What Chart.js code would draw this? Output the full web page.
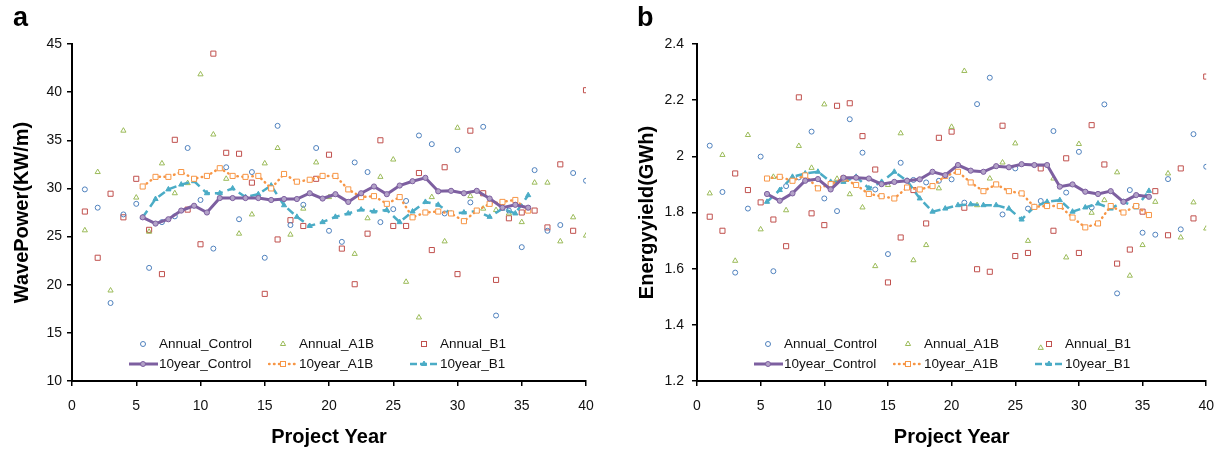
<!DOCTYPE html>
<html>
<head>
<meta charset="utf-8">
<script src="https://cdn.jsdelivr.net/npm/chart.js@4.4.0/dist/chart.umd.min.js"></script>
<style>
body{margin:0;background:#fff;width:1226px;height:451px;overflow:hidden;font-family:Arial,"Liberation Sans",sans-serif}
.panel{position:absolute;top:0;width:613px;height:451px}
.letra{position:absolute;top:2px;font-weight:bold;font-size:27px;color:#000}
.item{position:absolute;white-space:nowrap;font-size:13.5px;line-height:16px;color:#111}
.muestra{position:absolute}
</style>
</head>
<body>
<div class="panel" style="left:0"><canvas id="graficoPotencia" width="613" height="451"></canvas></div>
<div class="panel" style="left:613px"><canvas id="graficoEnergia" width="613" height="451"></canvas></div>
<div class="letra" style="left:13px">a</div>
<div class="letra" style="left:637px">b</div>
<div id="leyendas"></div>
<script>
// años del proyecto y centros de la media de 10 años
let anos = [1,2,3,4,5,6,7,8,9,10,11,12,13,14,15,16,17,18,19,20,21,22,23,24,25,26,27,28,29,30,31,32,33,34,35,36,37,38,39,40]
let anosMedia = [5.5,6.5,7.5,8.5,9.5,10.5,11.5,12.5,13.5,14.5,15.5,16.5,17.5,18.5,19.5,20.5,21.5,22.5,23.5,24.5,25.5,26.5,27.5,28.5,29.5,30.5,31.5,32.5,33.5,34.5,35.5]

// panel a: WavePower (KW/m)
let potControl = [29.9,28.0,18.1,27.3,28.4,21.75,26.5,27.1,34.2,28.8,23.75,32.2,26.8,31.7,22.8,36.5,26.2,28.3,34.2,25.6,24.45,32.7,31.7,26.5,27.85,28.7,35.5,34.6,27.4,34.0,28.55,36.4,16.8,27.7,23.9,31.9,25.6,26.2,31.6,30.8]
let potA1B = [25.65,31.7,19.4,36.0,29.05,25.5,32.6,29.5,30.55,41.85,35.6,31.0,25.3,27.3,32.6,34.2,25.2,27.9,32.7,29.1,49.7,23.2,26.9,31.2,33.0,20.3,16.6,29.1,24.5,36.3,29.2,27.9,27.75,27.4,26.5,30.6,30.6,24.5,27.0,25.1]
let potB1 = [27.6,22.8,29.45,27.0,31.0,25.7,21.1,35.05,27.8,24.2,44.0,33.7,33.6,30.6,19.05,24.7,26.7,26.1,31.0,33.5,23.75,20.05,25.3,35.0,26.1,26.1,31.6,23.6,32.2,21.1,36.0,29.5,20.5,26.9,27.5,27.7,25.95,32.5,25.6,40.2]
let potMediaControl = [27.0,26.35,26.8,27.7,28.2,27.5,29.0,29.0,29.0,29.0,28.8,28.9,28.9,29.5,28.95,29.4,28.6,29.5,30.2,29.4,30.3,30.75,31.1,29.7,29.75,29.5,29.75,28.95,28.0,28.3,28.0]
let potMediaA1B = [30.2,31.2,31.2,31.7,31.0,31.3,32.1,31.3,31.2,31.3,30.0,31.5,30.7,30.9,31.3,31.3,29.9,29.1,29.2,28.4,29.1,27.0,27.5,27.6,27.4,26.6,27.7,28.4,28.6,28.8,27.7]
let potMediaB1 = [27.0,28.9,29.9,30.4,30.75,29.5,29.5,30.0,29.1,29.4,30.3,28.25,27.05,26.1,26.5,27.05,27.4,27.8,27.6,27.75,26.5,27.6,28.6,28.3,27.4,27.5,27.65,27.05,27.9,27.4,29.3]

// panel b: Energy yield (GWh)
let enControl = [2.038,1.873,1.586,1.814,1.999,1.591,1.894,1.925,2.088,1.850,1.805,2.132,2.013,1.882,1.652,1.977,1.916,1.907,1.913,1.918,1.835,2.186,2.280,1.793,1.957,1.814,1.841,2.090,1.871,2.016,1.818,2.185,1.512,1.880,1.728,1.721,1.919,1.740,2.079,1.963]
let enA1B = [1.868,2.005,1.628,2.076,1.740,1.927,1.808,2.037,1.959,2.185,1.920,1.865,1.818,1.609,1.898,2.082,1.630,1.684,1.886,2.105,2.304,1.826,1.921,1.978,2.046,1.699,1.318,1.921,1.640,2.044,1.799,1.844,1.943,1.575,1.684,1.838,1.939,1.711,1.836,1.743]
let enB1 = [1.785,1.735,1.939,1.880,1.836,1.775,1.680,2.210,1.797,1.755,2.180,2.189,2.072,1.953,1.551,1.711,1.880,1.761,2.066,2.088,1.817,1.598,1.589,2.109,1.645,1.656,1.957,1.735,1.993,1.656,2.111,1.971,1.618,1.668,1.803,1.876,1.719,1.957,1.779,2.284]
let enMediaControl = [1.866,1.842,1.868,1.913,1.919,1.882,1.924,1.924,1.921,1.901,1.909,1.913,1.918,1.945,1.933,1.969,1.949,1.945,1.965,1.961,1.972,1.969,1.969,1.892,1.900,1.874,1.866,1.876,1.838,1.862,1.856]
let enMediaA1B = [1.921,1.927,1.913,1.932,1.886,1.901,1.921,1.898,1.866,1.858,1.850,1.889,1.882,1.894,1.930,1.945,1.907,1.876,1.900,1.876,1.868,1.820,1.823,1.823,1.782,1.747,1.761,1.823,1.800,1.823,1.791]
let enMediaB1 = [1.838,1.880,1.927,1.939,1.945,1.909,1.909,1.927,1.886,1.909,1.945,1.913,1.850,1.803,1.814,1.826,1.829,1.826,1.826,1.814,1.775,1.820,1.838,1.844,1.803,1.818,1.832,1.814,1.838,1.818,1.877]

let fuente = 'Arial, "Liberation Sans", sans-serif'
let azul = '#4f81bd', verde = '#9bbb59', rojo = '#c0504d'
let morado = '#7d5fa0', naranja = '#f79646', turquesa = '#4bacc6'

function puntos(xs, ys){
  return xs.map((x,i)=>({x:x, y:ys[i]}))
}

function datasets(control, a1b, b1, mControl, mA1B, mB1){
  return [
    {label:'10year_Control', data:puntos(anosMedia,mControl), borderColor:morado, borderWidth:3,
     pointStyle:'circle', pointRadius:2.6, pointBackgroundColor:'#b3a2c8', pointBorderColor:morado, pointBorderWidth:1, order:1},
    {label:'10year_A1B', data:puntos(anosMedia,mA1B), borderColor:naranja, borderWidth:2.5, borderDash:[0.5,4.5], borderCapStyle:'round',
     pointStyle:'rect', pointRadius:3.6, pointBackgroundColor:'#fff', pointBorderColor:naranja, pointBorderWidth:1, order:1},
    {label:'10year_B1', data:puntos(anosMedia,mB1), borderColor:turquesa, borderWidth:2.5, borderDash:[8,5],
     pointStyle:'triangle', pointRadius:3, pointBackgroundColor:turquesa, pointBorderColor:turquesa, pointBorderWidth:1, order:1},
    {label:'Annual_Control', data:puntos(anos,control), showLine:false, pointStyle:'circle', pointRadius:2.5,
     pointBackgroundColor:'rgba(0,0,0,0)', pointBorderColor:azul, pointBorderWidth:1, order:2},
    {label:'Annual_A1B', data:puntos(anos,a1b), showLine:false, pointStyle:'triangle', pointRadius:3,
     pointBackgroundColor:'rgba(0,0,0,0)', pointBorderColor:verde, pointBorderWidth:1, order:2},
    {label:'Annual_B1', data:puntos(anos,b1), showLine:false, pointStyle:'rect', pointRadius:3.6,
     pointBackgroundColor:'rgba(0,0,0,0)', pointBorderColor:rojo, pointBorderWidth:1, order:2}
  ]
}

function opciones(yMin, yMax, yPaso, tituloY, anchoY, padDerecha, padTituloY, padTicksY){
  return {
    responsive:false,
    animation:false,
    layout:{padding:{left:0, right:padDerecha, top:44, bottom:0}},
    plugins:{legend:{display:false}, tooltip:{enabled:false}},
    scales:{
      x:{
        type:'linear', min:0, max:40,
        ticks:{stepSize:5, padding:12, color:'#111', font:{size:14, family:fuente}},
        grid:{drawOnChartArea:false, color:'#000', tickLength:5, lineWidth:1.5},
        border:{color:'#000', width:2},
        title:{display:true, text:'Project Year', color:'#000', font:{size:20, weight:'bold', family:fuente}, padding:{top:0, bottom:2}},
        afterFit: s=>{ s.height = 70 }
      },
      y:{
        min:yMin, max:yMax,
        ticks:{stepSize:yPaso, padding:padTicksY, color:'#111', font:{size:14, family:fuente},
          callback: v=> String(Math.round(v*10)/10)},
        grid:{drawOnChartArea:false, color:'#000', tickLength:5, lineWidth:1.5},
        border:{color:'#000', width:2},
        title:{display:true, text:tituloY, color:'#000', font:{size:20, weight:'bold', family:fuente}, padding:{top:padTituloY, bottom:0}},
        afterFit: s=>{ s.width = anchoY }
      }
    }
  }
}

let graficoPotencia = new Chart(document.getElementById('graficoPotencia'), {
  type:'line',
  data:{datasets:datasets(potControl,potA1B,potB1,potMediaControl,potMediaA1B,potMediaB1)},
  options:opciones(10, 45, 5, 'WavePower(KW/m)', 72, 27, 10, 5)
})

let graficoEnergia = new Chart(document.getElementById('graficoEnergia'), {
  type:'line',
  data:{datasets:datasets(enControl,enA1B,enB1,enMediaControl,enMediaA1B,enMediaB1)},
  options:opciones(1.2, 2.4, 0.2, 'Energyyield(GWh)', 84, 15, 22, 8)
})

// leyenda en html dentro del área del gráfico
let filas = [
  [['Annual_Control','o',azul,null],['Annual_A1B','t',verde,null],['Annual_B1','s',rojo,null]],
  [['10year_Control','o',morado,'solido'],['10year_A1B','s',naranja,'puntos'],['10year_B1','t',turquesa,'guiones']]
]
let columnasTexto = [87, 227, 368]
let filasY = [343.5, 363.5]

function marcador(tipo, color, relleno){
  if(tipo==='o') return `<circle cx="15" cy="6" r="2.5" fill="${relleno}" stroke="${color}" stroke-width="1"/>`
  if(tipo==='t') return `<polygon points="15,3 17.6,7.5 12.4,7.5" fill="${relleno}" stroke="${color}" stroke-width="1"/>`
  return `<rect x="12.5" y="3.5" width="5" height="5" fill="${relleno}" stroke="${color}" stroke-width="1"/>`
}

function leyenda(izquierda){
  let html = ''
  filas.forEach((fila,f)=>{
    fila.forEach((it,c)=>{
      let [texto,tipo,color,linea] = it
      let tx = izquierda + columnasTexto[c]
      let y = filasY[f]
      let svg = ''
      let relleno = 'none'
      if(linea){
        let dash = linea==='puntos' ? 'stroke-dasharray="0.5,4.5" stroke-linecap="round"' : (linea==='guiones' ? 'stroke-dasharray="7,3"' : '')
        let ancho = linea==='solido' ? 3 : 2.5
        svg += `<line x1="1" y1="6" x2="30" y2="6" stroke="${color}" stroke-width="${ancho}" ${dash}/>`
        relleno = linea==='solido' ? '#b3a2c8' : (linea==='guiones' ? color : '#fff')
      }
      svg += marcador(tipo,color,relleno)
      html += `<svg class="muestra" width="30" height="12" style="left:${tx-31}px;top:${y-6}px">${svg}</svg>`
      html += `<div class="item" style="left:${tx}px;top:${y-8}px">${texto}</div>`
    })
  })
  return html
}

document.getElementById('leyendas').innerHTML = leyenda(72) + leyenda(697)
</script>
</body>
</html>
